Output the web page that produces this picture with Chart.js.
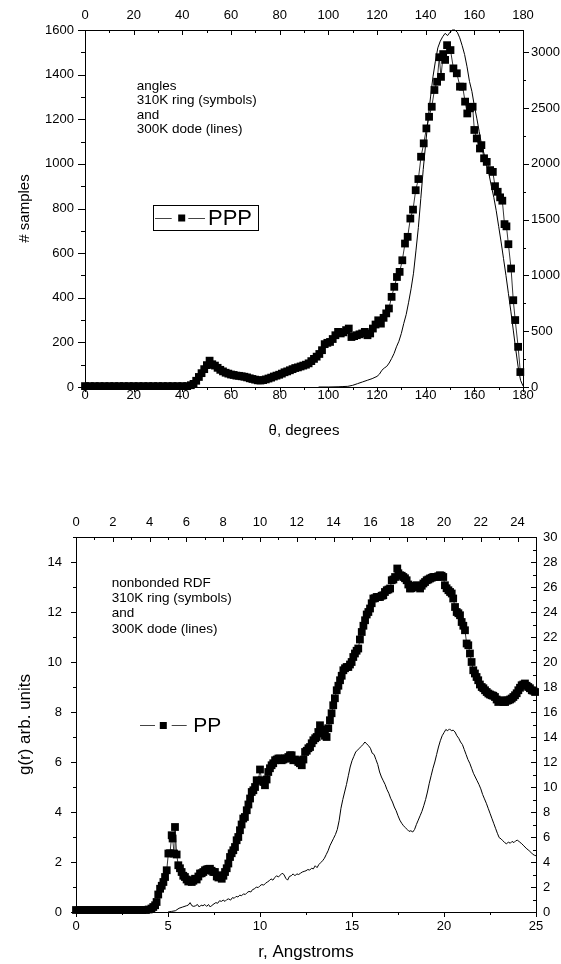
<!DOCTYPE html>
<html><head><meta charset="utf-8">
<script src="https://cdn.jsdelivr.net/npm/chart.js@4.4.1/dist/chart.umd.min.js"></script>
<style>
html,body{margin:0;padding:0;background:#fff;}
#w{position:relative;width:561px;height:964px;overflow:hidden;background:#fff;}
canvas{position:absolute;left:0;}
#c1{top:0;} #c2{top:470px;}
</style></head><body><div id="w"><canvas id="c1" width="561" height="460"></canvas><canvas id="c2" width="561" height="494"></canvas></div>
<script>
// ---------- TOP PANEL DATA (angles) ----------
const thetaRing = [0,2,4,6,8,10,12,14,16,18,20,22,24,26,28,30,32,34,36,38,40,42,
43.5,44.6,45.7,46.8,47.9,49.0,50.1,51.2,52.3,53.4,
54.5,55.6,56.7,57.8,58.9,60.0,61.1,62.2,63.3,64.4,
65.5,66.6,67.7,68.8,69.9,71.0,72.1,73.2,74.3,75.4,
76.5,77.6,78.7,79.8,80.9,82.0,83.1,84.2,85.3,86.4,
87.5,88.6,89.7,90.8,91.9,93.0,94.1,95.2,96.3,97.4,
98.5,99.6,100.7,101.8,102.9,104.0,105.1,106.2,107.3,108.4,
109.5,110.6,111.7,112.8,113.9,115.0,116.1,117.2,118.3,119.4,
120.5,121.6,122.7,123.8,124.9,126.0,127.1,128.2,129.3,130.4,
131.5,132.6,133.7,134.8,135.9,137.0,138.1,139.2,140.3,141.4,
142.5,143.6,144.7,145.6,146.3,147.2,148.0,148.8,150.2,151.4,
152.8,154.1,155.2,156.2,157.1,158.2,159.3,160.0,161.0,162.3,
162.9,164.0,165.1,166.5,167.6,168.5,169.6,170.6,171.5,172.4,
173.2,174.0,175.1,176.0,176.8,178.0,178.9];
const samplesRing = [4,4,4,4,4,4,4,4,4,4,4,4,4,4,4,4,4,4,4,4,4,4,
8,14,28,45,62,80,98,118,102,96,
86,77,70,64,60,56,54,51,50,48,
46,43,39,36,33,30,29,31,34,38,
42,47,51,55,60,66,70,75,80,85,
88,92,96,100,106,116,126,136,148,165,
192,198,202,215,232,247,240,245,255,262,
224,228,232,236,240,247,232,240,262,280,
299,284,310,330,352,404,449,493,516,568,
643,673,755,795,882,932,1032,1092,1159,1211,
1256,1331,1368,1478,1390,1492,1466,1532,1510,1428,
1406,1346,1346,1279,1226,1249,1256,1152,1114,1069,
1084,1025,1009,972,964,900,875,850,835,730,
720,640,531,389,300,180,67];
const thetaDode = [96,100,104,106,108,110,112,114,116,118,
120,121,122,123,124,125,126,127,128,129,
130,131,132,133,134,135,136,137,138,139,
140,141,142,143,144,145,146,147,148,149,
150,151,152,153,154,155,156,157,158,159,
160,161,162,163,164,165,166,167,168,169,
170,171,172,173,174,175,176,177,178,179,180];
const countsDode = [0,0,2,4,6,15,30,45,60,75,
95,115,150,170,185,215,255,300,360,410,
480,570,650,760,880,1020,1220,1430,1690,1950,
2180,2400,2600,2780,2920,3040,3100,3140,3170,3150,
3180,3200,3200,3180,3130,3060,2980,2870,2740,2650,
2520,2410,2290,2170,2090,1990,1910,1800,1700,1580,
1440,1300,1150,1000,840,680,510,340,180,60,10];
const thetaTicks = [0,20,40,60,80,100,120,140,160,180];
const thetaMinor = [10,30,50,70,90,110,130,150,170];
const samplesTicks = [0,200,400,600,800,1000,1200,1400,1600];
const samplesMinor = [100,300,500,700,900,1100,1300,1500];
const countsTicks = [0,500,1000,1500,2000,2500,3000];
const countsMinor = [250,750,1250,1750,2250,2750];

// ---------- BOTTOM PANEL DATA (RDF) ----------
const rRing = [0,0.2,0.4,0.6,0.8,1.0,1.2,1.4,1.6,1.8,2.0,2.2,2.4,2.6,2.8,3.0,3.2,3.4,3.6,3.8,
3.95,4.1,4.2,4.3,4.38,4.47,4.57,4.66,4.75,4.84,
4.93,5.02,5.11,5.2,5.25,5.33,5.38,5.47,5.56,5.65,
5.74,5.83,5.92,6.01,6.1,6.2,6.29,6.38,6.47,6.56,
6.65,6.74,6.83,6.92,7.01,7.1,7.19,7.28,7.37,7.46,
7.55,7.65,7.74,7.83,7.92,8.01,8.1,8.19,8.28,8.37,
8.46,8.55,8.64,8.73,8.82,8.91,9.0,9.09,9.18,9.28,
9.37,9.46,9.55,9.64,9.73,9.82,9.91,10.0,10.09,10.18,
10.27,10.36,10.45,10.54,10.63,10.72,10.82,10.91,11.0,11.09,
11.18,11.27,11.36,11.45,11.54,11.63,11.72,11.81,11.9,12.0,
12.08,12.17,12.27,12.36,12.45,12.54,12.63,12.72,12.81,12.9,
13.0,13.08,13.17,13.26,13.35,13.44,13.53,13.62,13.71,13.8,
13.89,13.98,14.07,14.17,14.26,14.35,14.44,14.53,14.62,14.71,
14.8,14.89,14.98,15.07,15.16,15.25,15.34,15.43,15.53,15.62,
15.71,15.8,15.89,15.98,16.07,16.16,16.25,16.34,16.43,16.52,
16.61,16.7,16.79,16.89,16.98,17.07,17.16,17.25,17.34,17.46,
17.52,17.61,17.7,17.79,17.88,17.97,18.06,18.15,18.24,18.33,
18.42,18.52,18.61,18.7,18.79,18.88,18.97,19.06,19.15,19.24,
19.33,19.42,19.51,19.6,19.69,19.78,19.87,19.96,20.05,20.14,
20.24,20.33,20.42,20.5,20.6,20.69,20.78,20.87,20.96,21.05,
21.14,21.23,21.32,21.41,21.5,21.59,21.68,21.77,21.86,21.95,
22.05,22.14,22.23,22.32,22.41,22.5,22.59,22.68,22.77,22.86,
22.95,23.04,23.14,23.23,23.32,23.41,23.5,23.59,23.68,23.77,
23.86,23.95,24.04,24.13,24.22,24.31,24.4,24.49,24.58,24.67,
24.77,24.86,24.95];
const gRing = [0.08,0.08,0.08,0.08,0.08,0.08,0.08,0.08,0.08,0.08,0.08,0.08,0.08,0.08,0.08,0.08,0.08,0.08,0.08,0.08,
0.1,0.14,0.2,0.27,0.4,0.7,0.93,1.05,1.2,1.4,
1.67,2.34,2.35,3.07,2.94,2.34,3.4,2.3,1.87,1.75,
1.6,1.45,1.4,1.3,1.22,1.27,1.2,1.25,1.33,1.3,
1.42,1.54,1.55,1.6,1.67,1.7,1.72,1.73,1.65,1.6,
1.6,1.42,1.38,1.47,1.33,1.45,1.6,1.75,1.94,2.2,
2.35,2.47,2.6,2.87,3.0,3.27,3.5,3.74,3.8,4.07,
4.3,4.54,4.8,4.87,5.0,5.27,5.25,5.7,5.27,5.2,
5.07,5.3,5.6,5.75,5.87,5.95,6.07,6.1,6.14,6.14,
6.07,6.1,6.14,6.14,6.2,6.27,6.27,6.07,6.1,6.07,
6.0,5.95,5.87,6.1,6.4,6.45,6.55,6.6,6.75,6.87,
6.95,7.0,7.2,7.47,7.3,7.14,7.05,7.0,7.35,7.67,
7.95,8.27,8.55,8.87,9.05,9.27,9.45,9.67,9.75,9.8,
9.8,9.9,10.0,10.2,10.34,10.45,10.54,10.9,11.2,11.45,
11.67,11.9,12.0,12.14,12.35,12.54,12.55,12.6,12.6,12.6,
12.65,12.67,12.8,12.87,12.9,12.94,13.27,13.3,13.4,13.74,
13.55,13.47,13.45,13.4,13.35,13.27,13.1,12.94,12.95,13.0,
13.05,13.07,13.0,12.94,13.05,13.14,13.2,13.27,13.3,13.34,
13.37,13.4,13.4,13.4,13.43,13.47,13.45,13.4,13.07,12.95,
12.87,12.8,12.74,12.54,12.2,12.0,11.95,11.87,11.6,11.45,
11.27,10.74,10.67,10.34,10.0,9.67,9.54,9.4,9.27,9.1,
9.0,8.95,8.87,8.8,8.74,8.7,8.67,8.65,8.6,8.5,
8.4,8.45,8.47,8.4,8.4,8.45,8.47,8.5,8.54,8.6,
8.67,8.75,8.87,8.97,9.07,9.1,9.14,9.05,9.0,8.95,
8.87,8.85,8.8];
const rDode = [5.0,5.2,5.4,5.6,5.8,
6.0,6.1,6.2,6.3,6.4,6.5,6.6,6.7,6.8,6.9,
7.0,7.1,7.2,7.3,7.4,7.5,7.6,7.7,7.8,7.9,
8.0,8.1,8.2,8.3,8.4,8.5,8.6,8.7,8.8,8.9,
9.0,9.1,9.2,9.3,9.4,9.5,9.6,9.7,9.8,9.9,
10.0,10.1,10.2,10.3,10.4,10.5,10.6,10.7,10.8,10.9,
11.0,11.1,11.2,11.3,11.4,11.5,11.6,11.7,11.8,11.9,
12.0,12.1,12.2,12.3,12.4,12.5,12.6,12.7,12.8,12.9,
13.0,13.1,13.2,13.3,13.4,13.5,13.6,13.7,13.8,13.9,
14.0,14.1,14.2,14.3,14.4,14.5,14.6,14.7,14.8,14.9,
15.0,15.1,15.2,15.3,15.4,15.5,15.6,15.7,15.8,15.9,
16.0,16.1,16.2,16.3,16.4,16.5,16.6,16.7,16.8,16.9,
17.0,17.1,17.2,17.3,17.4,17.5,17.6,17.7,17.8,17.9,
18.0,18.1,18.2,18.3,18.4,18.5,18.6,18.7,18.8,18.9,
19.0,19.1,19.2,19.3,19.4,19.5,19.6,19.7,19.8,19.9,
20.0,20.1,20.2,20.3,20.4,20.5,20.6,20.7,20.8,20.9,
21.0,21.1,21.2,21.3,21.4,21.5,21.6,21.7,21.8,21.9,
22.0,22.1,22.2,22.3,22.4,22.5,22.6,22.7,22.8,22.9,
23.0,23.1,23.2,23.3,23.4,23.5,23.6,23.7,23.8,23.9,
24.0,24.1,24.2,24.3,24.4,24.5,24.6,24.7,24.8,24.9,25.0];
const gDode = [0,0.05,0.1,0.3,0.4,
0.5,0.55,0.75,0.5,0.45,0.5,0.6,0.4,0.55,0.5,
0.6,0.45,0.6,0.4,0.55,0.65,0.75,0.7,0.9,0.85,
0.95,0.85,1.0,1.05,0.95,1.15,1.1,1.25,1.2,1.35,
1.3,1.45,1.4,1.55,1.65,1.6,1.8,1.85,2.0,1.95,
2.1,2.2,2.15,2.3,2.4,2.5,2.65,2.55,2.75,2.9,
2.8,2.95,3.1,3.0,2.7,2.55,2.85,2.9,3.05,2.9,
3.05,3.0,3.1,3.2,3.25,3.3,3.4,3.35,3.5,3.45,
3.7,3.55,3.8,3.95,4.1,4.3,4.6,4.9,5.3,5.6,
5.9,6.2,6.6,7.3,8.3,9.0,9.6,10.2,10.9,11.6,
12.1,12.45,12.8,12.95,13.1,13.25,13.4,13.6,13.45,13.3,
13.1,12.7,12.6,12.2,11.8,11.2,10.8,10.5,10.2,9.8,
9.5,9.1,8.8,8.4,8.1,7.7,7.35,7.1,6.9,6.75,
6.6,6.45,6.5,6.4,6.6,7.0,7.35,7.7,8.05,8.5,
9.0,9.6,10.3,10.9,11.5,12.0,12.6,13.2,13.7,14.1,
14.35,14.6,14.5,14.65,14.5,14.55,14.4,14.1,13.9,13.6,
13.4,13.0,12.6,12.2,11.9,11.5,11.1,10.8,10.5,10.2,
9.85,9.4,9.05,8.7,8.3,7.9,7.5,7.1,6.7,6.3,
5.95,5.85,5.7,5.55,5.45,5.6,5.5,5.65,5.55,5.7,
5.75,5.6,5.5,5.35,5.2,5.05,4.95,4.8,4.65,4.55,4.5];
const rTicksBottom = [0,5,10,15,20,25];
const rMinorBottom = [2.5,7.5,12.5,17.5,22.5];
const rTicksTop = [0,2,4,6,8,10,12,14,16,18,20,22,24];
const rMinorTop = [1,3,5,7,9,11,13,15,17,19,21,23,25];
const gTicks = [0,2,4,6,8,10,12,14];
const gMinor = [1,3,5,7,9,11,13,15];
const gRightTicks = [0,2,4,6,8,10,12,14,16,18,20,22,24,26,28,30];
const gRightMinor = [1,3,5,7,9,11,13,15,17,19,21,23,25,27,29];

// ---------- helpers ----------
const FONT = "'Liberation Sans', Arial, Helvetica, sans-serif";
Chart.defaults.font.family = FONT;
Chart.defaults.color = '#000';
Chart.defaults.font.size = 13;

const pts = (xs, ys) => xs.map((x, i) => ({x: x, y: ys[i]}));
const fixed = vals => s => { s.ticks = vals.map(v => ({value: v})); };
const fixW = w => s => { s.width = w; };
const fixH = h => s => { s.height = h; };

const tickMarks = {
  id: 'tickMarks',
  afterDraw(chart, args, opts) {
    const ctx = chart.ctx, a = chart.chartArea;
    ctx.save();
    ctx.strokeStyle = '#000';
    ctx.lineWidth = 1;
    (opts.specs || []).forEach(sp => {
      const s = chart.scales[sp.id];
      const draw = (vals, len) => vals.forEach(v => {
        const p = Math.round(s.getPixelForValue(v)) + 0.5;
        ctx.beginPath();
        if (sp.pos === 'top' || sp.pos === 'bottom') {
          const y0 = sp.pos === 'top' ? a.top : a.bottom;
          const sign = ((sp.pos === 'top') === (sp.dir === 'in')) ? 1 : -1;
          ctx.moveTo(p, y0); ctx.lineTo(p, y0 + sign * len);
        } else {
          const x0 = sp.pos === 'left' ? a.left : a.right;
          const sign = ((sp.pos === 'left') === (sp.dir === 'in')) ? 1 : -1;
          ctx.moveTo(x0, p); ctx.lineTo(x0 + sign * len, p);
        }
        ctx.stroke();
      });
      draw(sp.major, sp.len);
      draw(sp.minor, sp.mlen);
    });
    ctx.restore();
  }
};

const notes = {
  id: 'notes',
  afterDraw(chart, args, o) {
    if (!o || !o.lines) return;
    const ctx = chart.ctx, a = chart.chartArea;
    ctx.save();
    ctx.fillStyle = '#000';
    ctx.textBaseline = 'middle';
    ctx.textAlign = 'left';
    ctx.font = o.size + 'px ' + FONT;
    o.lines.forEach((t, i) => ctx.fillText(t, a.left + o.dx, a.top + o.dy + i * o.lh));
    const L = o.legend;
    const cy = a.top + L.dy;
    if (L.box) {
      ctx.strokeStyle = '#000'; ctx.lineWidth = 1;
      ctx.strokeRect(Math.round(a.left + L.box[0]) + 0.5, Math.round(a.top + L.box[1]) + 0.5, L.box[2], L.box[3]);
    }
    ctx.strokeStyle = '#444'; ctx.lineWidth = 1;
    ctx.beginPath();
    ctx.moveTo(a.left + L.l1[0], Math.round(cy) + 0.5); ctx.lineTo(a.left + L.l1[1], Math.round(cy) + 0.5);
    ctx.moveTo(a.left + L.l2[0], Math.round(cy) + 0.5); ctx.lineTo(a.left + L.l2[1], Math.round(cy) + 0.5);
    ctx.stroke();
    ctx.fillStyle = '#000';
    ctx.fillRect(a.left + L.sq - L.ss / 2, cy - L.ss / 2 + 0.5, L.ss, L.ss);
    ctx.font = L.size + 'px ' + FONT;
    ctx.fillText(chart.data.datasets[0].label, a.left + L.tx, cy + 1);
    ctx.restore();
  }
};

function axis(pos, min, max, ticksArr, sizeFn, pad, title) {
  const o = {
    type: 'linear', position: pos, min: min, max: max,
    afterBuildTicks: fixed(ticksArr), afterFit: sizeFn,
    grid: {display: false, drawTicks: false},
    border: {display: true, color: '#000', width: 1},
    ticks: {padding: pad, autoSkip: false, maxRotation: 0, callback: v => String(v), font: {size: 13}}
  };
  if (title) o.title = title;
  return o;
}

// ---------- top chart ----------
new Chart(document.getElementById('c1'), {
  type: 'scatter',
  data: {datasets: [
    {label: 'PPP', data: pts(thetaRing, samplesRing), xAxisID: 'x', yAxisID: 'y',
     showLine: true, borderColor: '#000', borderWidth: 0.8, backgroundColor: '#000',
     pointStyle: 'rect', pointRadius: 5.5, pointBorderWidth: 0, pointBackgroundColor: '#000', clip: false},
    {label: '300K dode', data: pts(thetaDode, countsDode), xAxisID: 'x', yAxisID: 'y2',
     showLine: true, borderColor: '#000', borderWidth: 1, pointRadius: 0, clip: false}
  ]},
  options: {
    responsive: false, animation: false, events: [], devicePixelRatio: 1,
    layout: {padding: 0},
    plugins: {
      legend: {display: false}, tooltip: {enabled: false},
      tickMarks: {specs: [
        {id: 'x', pos: 'bottom', dir: 'out', major: thetaTicks, minor: thetaMinor, len: 5, mlen: 3},
        {id: 'x2', pos: 'top', dir: 'in', major: thetaTicks, minor: thetaMinor, len: 5, mlen: 3},
        {id: 'y', pos: 'left', dir: 'out', major: samplesTicks, minor: samplesMinor, len: 7, mlen: 4},
        {id: 'y2', pos: 'right', dir: 'out', major: countsTicks, minor: countsMinor, len: 6, mlen: 3}
      ]},
      notes: {size: 13.5, dx: 51.7, dy: 56, lh: 14.5,
        lines: ['angles', '310K ring (symbols)', 'and', '300K dode (lines)'],
        legend: {box: [68, 175, 105, 25], dy: 187.5, l1: [70, 86.7], l2: [103.3, 120], sq: 96.7, ss: 7, tx: 123, size: 22}}
    },
    scales: {
      x: axis('bottom', 0, 180, thetaTicks, fixH(73), 1,
        {display: true, text: 'θ, degrees', font: {size: 15}, padding: {top: 0, bottom: 20}}),
      x2: axis('top', 0, 180, thetaTicks, fixH(30), 7),
      y: axis('left', 0, 1600, samplesTicks, fixW(85), 11,
        {display: true, text: '# samples', font: {size: 15}, padding: {top: 16, bottom: 0}}),
      y2: axis('right', 0, 3200, countsTicks, fixW(38), 8)
    }
  },
  plugins: [tickMarks, notes]
});

// ---------- bottom chart ----------
new Chart(document.getElementById('c2'), {
  type: 'scatter',
  data: {datasets: [
    {label: 'PP', data: pts(rRing, gRing), xAxisID: 'x', yAxisID: 'y',
     showLine: true, borderColor: '#000', borderWidth: 0.8, backgroundColor: '#000',
     pointStyle: 'rect', pointRadius: 5.5, pointBorderWidth: 0, pointBackgroundColor: '#000', clip: false},
    {label: '300K dode', data: pts(rDode, gDode), xAxisID: 'x', yAxisID: 'y2',
     showLine: true, borderColor: '#000', borderWidth: 1, pointRadius: 0, clip: false}
  ]},
  options: {
    responsive: false, animation: false, events: [], devicePixelRatio: 1,
    layout: {padding: 0},
    plugins: {
      legend: {display: false}, tooltip: {enabled: false},
      tickMarks: {specs: [
        {id: 'x', pos: 'bottom', dir: 'out', major: rTicksBottom, minor: rMinorBottom, len: 5, mlen: 3},
        {id: 'x2', pos: 'top', dir: 'in', major: rTicksTop, minor: rMinorTop, len: 5, mlen: 3},
        {id: 'y', pos: 'left', dir: 'out', major: gTicks, minor: gMinor, len: 5, mlen: 3},
        {id: 'y2', pos: 'right', dir: 'in', major: gRightTicks, minor: gRightMinor, len: 5, mlen: 3}
      ]},
      notes: {size: 13.5, dx: 35.7, dy: 46.3, lh: 15.2,
        lines: ['nonbonded RDF', '310K ring (symbols)', 'and', '300K dode (lines)'],
        legend: {box: null, dy: 188, l1: [64, 79], l2: [95.7, 110.7], sq: 87.3, ss: 7, tx: 117.3, size: 21}}
    },
    scales: {
      x: axis('bottom', 0, 25, rTicksBottom, fixH(52), 7,
        {display: true, text: 'r, Angstroms', font: {size: 17}, padding: {top: 0, bottom: 1}}),
      x2: axis('top', 0, 25, rTicksTop, fixH(67), 7),
      y: axis('left', 0, 15, gTicks, fixW(76), 14,
        {display: true, text: 'g(r) arb. units', font: {size: 17}, padding: {top: 15, bottom: 0}}),
      y2: axis('right', 0, 30, gRightTicks, fixW(25), 7)
    }
  },
  plugins: [tickMarks, notes]
});
</script>
</body></html>
